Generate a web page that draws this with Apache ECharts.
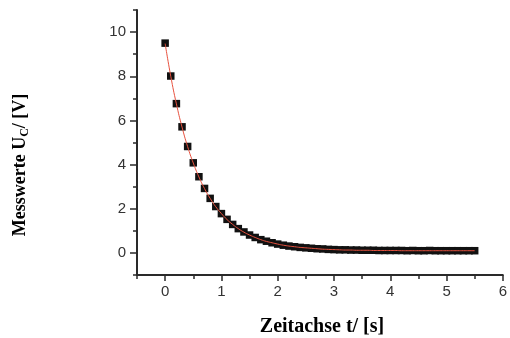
<!DOCTYPE html>
<html>
<head>
<meta charset="utf-8">
<script src="https://cdn.jsdelivr.net/npm/echarts@6/dist/echarts.min.js"></script>
<style>
    html, body { margin: 0; padding: 0; background: #fff; }
    #chart { width: 510px; height: 338px; }
</style>
</head>
<body>
<div id="chart"></div>
<script>
// Messzeitpunkte in s
const zeit = [
    0.0, 0.1, 0.2, 0.3, 0.4, 0.5, 0.6, 0.7, 0.8, 0.9,
    1.0, 1.1, 1.2, 1.3, 1.4, 1.5, 1.6, 1.7, 1.8, 1.9,
    2.0, 2.1, 2.2, 2.3, 2.4, 2.5, 2.6, 2.7, 2.8, 2.9,
    3.0, 3.1, 3.2, 3.3, 3.4, 3.5, 3.6, 3.7, 3.8, 3.9,
    4.0, 4.1, 4.2, 4.3, 4.4, 4.5, 4.6, 4.7, 4.8, 4.9,
    5.0, 5.1, 5.2, 5.3, 5.4, 5.5
]
// Messwerte U_C in V
const messwerte = [
    9.50, 8.01, 6.76, 5.71, 4.82, 4.08, 3.45, 2.92, 2.47, 2.10,
    1.78, 1.52, 1.29, 1.10, 0.95, 0.81, 0.70, 0.60, 0.53, 0.46,
    0.40, 0.35, 0.31, 0.28, 0.25, 0.23, 0.21, 0.19, 0.18, 0.16,
    0.15, 0.14, 0.14, 0.13, 0.13, 0.12, 0.12, 0.12, 0.11, 0.11,
    0.11, 0.11, 0.11, 0.10, 0.11, 0.10, 0.10, 0.11, 0.10, 0.10,
    0.10, 0.10, 0.10, 0.10, 0.10, 0.10
]
// Fitkurve (exponentieller Abfall), an den gleichen Zeitpunkten
const fitwerte = [
    9.48, 8.00, 6.75, 5.70, 4.81, 4.07, 3.44, 2.91, 2.47, 2.09,
    1.78, 1.51, 1.29, 1.10, 0.94, 0.81, 0.70, 0.60, 0.52, 0.46,
    0.40, 0.35, 0.31, 0.28, 0.25, 0.23, 0.21, 0.19, 0.17, 0.16,
    0.15, 0.14, 0.13, 0.13, 0.12, 0.12, 0.12, 0.11, 0.11, 0.11,
    0.11, 0.11, 0.10, 0.10, 0.10, 0.10, 0.10, 0.10, 0.10, 0.10,
    0.10, 0.10, 0.10, 0.10, 0.10, 0.10
]
const xTicks = [0, 1, 2, 3, 4, 5, 6]
const xMinorTicks = [-0.5, 0.5, 1.5, 2.5, 3.5, 4.5, 5.5]
const yTicks = [0, 2, 4, 6, 8, 10]
const yMinorTicks = [-1, 1, 3, 5, 7, 9, 11]

const chart = echarts.init(document.getElementById('chart'))

const axisColor = '#2a2a2a'
const labelStyle = {
    color: '#333',
    fontFamily: 'Liberation Sans',
    fontSize: 15
}

// eine Achse nur fuer Striche (ohne Linie und Beschriftung)
function tickAxis(min, max, pos, values, len) {
    return {
        type: 'value',
        position: pos,
        min: min,
        max: max,
        axisLine: { show: false, onZero: false },
        axisTick: { show: true, length: len, lineStyle: { color: axisColor, width: 1.5 }, customValues: values },
        axisLabel: { show: false },
        splitLine: { show: false }
    }
}

const option = {
    animation: false,
    backgroundColor: '#fff',
    grid: {
        left: 137,
        right: 3,
        top: 10,
        bottom: 63
    },
    xAxis: [
        {
            type: 'value',
            position: 'bottom',
            min: -0.5,
            max: 6,
            axisLine: { onZero: false, lineStyle: { color: axisColor, width: 2 } },
            axisTick: { show: false },
            axisLabel: Object.assign({ margin: 9, customValues: xTicks }, labelStyle),
            splitLine: { show: false }
        },
        tickAxis(-0.5, 6, 'bottom', xTicks, 6),
        tickAxis(-0.5, 6, 'bottom', xMinorTicks, 4)
    ],
    yAxis: [
        {
            type: 'value',
            position: 'left',
            min: -1,
            max: 11,
            axisLine: { show: true, onZero: false, lineStyle: { color: axisColor, width: 2 } },
            axisTick: { show: false },
            axisLabel: Object.assign({ margin: 11, customValues: yTicks }, labelStyle),
            splitLine: { show: false }
        },
        tickAxis(-1, 11, 'left', yTicks, 7),
        tickAxis(-1, 11, 'left', yMinorTicks, 4)
    ],
    graphic: [
        {
            type: 'text',
            x: 20,
            y: 165,
            rotation: Math.PI / 2,
            style: {
                text: '{b|Messwerte U}{s|C}{b|/ [V]}',
                align: 'center',
                verticalAlign: 'middle',
                rich: {
                    b: { fontFamily: 'Liberation Serif', fontWeight: 'bold', fontSize: 18, fill: '#000', lineHeight: 22 },
                    s: { fontFamily: 'Liberation Serif', fontWeight: 'bold', fontSize: 12, fill: '#000', lineHeight: 22, verticalAlign: 'bottom', padding: [6, 0, 0, 0] }
                }
            }
        },
        {
            type: 'text',
            x: 322,
            y: 327,
            style: {
                text: 'Zeitachse t/ [s]',
                align: 'center',
                verticalAlign: 'middle',
                fontFamily: 'Liberation Serif',
                fontWeight: 'bold',
                fontSize: 20,
                fill: '#000'
            }
        }
    ],
    series: [
        {
            name: 'Messwerte',
            type: 'scatter',
            symbol: 'rect',
            symbolSize: 7.5,
            itemStyle: { color: '#111', opacity: 1 },
            data: zeit.map((t, i) => [t, messwerte[i]]),
            z: 2
        },
        {
            name: 'Fit',
            type: 'line',
            smooth: true,
            showSymbol: false,
            lineStyle: { color: '#e8523f', width: 1 },
            data: zeit.map((t, i) => [t, fitwerte[i]]),
            z: 3
        }
    ]
}

chart.setOption(option)
</script>
</body>
</html>
